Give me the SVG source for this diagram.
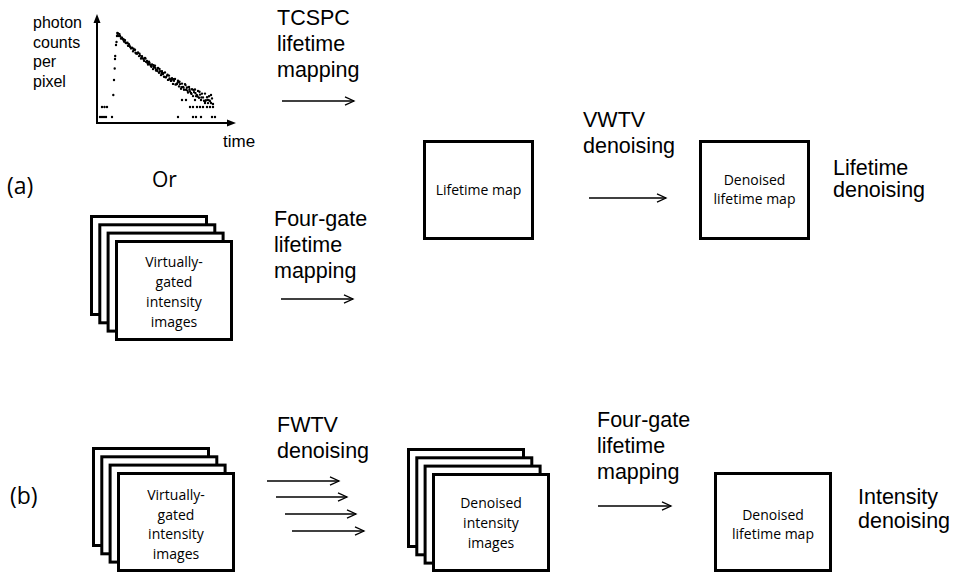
<svg xmlns="http://www.w3.org/2000/svg" width="953" height="573" viewBox="0 0 953 573">
<style>
.box{fill:#fff;stroke:#000;stroke-width:3}
.lbl{font-family:"Liberation Sans",Arial,sans-serif;font-size:21.5px;fill:#000}
.in{font-family:"Open Sans","Noto Sans",sans-serif;font-size:14px;fill:#000;text-anchor:middle}
.ax{font-family:"Liberation Sans",Arial,sans-serif;font-size:16px;fill:#000}
.conn{stroke:#000;stroke-width:1.3;fill:none;marker-end:url(#arr)}
</style>
<defs>
<marker id="arr" markerUnits="userSpaceOnUse" markerWidth="12" markerHeight="12" refX="10" refY="5" orient="auto">
<path d="M1,0.8 L10,5 L1,9.2" fill="none" stroke="#000" stroke-width="1.3"/>
</marker>
</defs>
<rect width="953" height="573" fill="#fff"/>

<g id="plot">
<path d="M97,21 V123 H229" fill="none" stroke="#000" stroke-width="2"/>
<path d="M97,14 L93.5,23 L100.5,23 Z M236,123 L227,119.5 L227,126.5 Z" fill="#000"/>
<text class="ax" x="33" y="28">photon</text>
<text class="ax" x="33" y="47.5">counts</text>
<text class="ax" x="33" y="67">per</text>
<text class="ax" x="33" y="86.5">pixel</text>
<text class="ax" x="223" y="147" style="font-size:17px">time</text>
<path fill="none" stroke="#000" stroke-width="2.4" stroke-linecap="round" d="M118 33.1h.01M119 36h.01M120 36h.01M121 38.5h.01M122 37.6h.01M123 39.5h.01M124 41.5h.01M125 40.1h.01M126 43.1h.01M127 43h.01M128 45.8h.01M129 44.3h.01M130 46.8h.01M131 48.4h.01M132 47.6h.01M133 51.2h.01M134 50.1h.01M135 49.7h.01M136 53.4h.01M137 53.7h.01M138 52.4h.01M139 56.1h.01M140 55.4h.01M141 58.5h.01M142 56.2h.01M143 58.5h.01M144 60.8h.01M145 57.9h.01M146 61.8h.01M147 61h.01M148 64.5h.01M149 61.6h.01M150 64.6h.01M151 66.2h.01M152 64.4h.01M153 69.1h.01M154 67h.01M155 65.8h.01M156 70.5h.01M157 70.3h.01M158 68h.01M159 72.7h.01M160 71.1h.01M161 75.1h.01M162 71.3h.01M163 74.1h.01M164 76.7h.01M165 72.4h.01M166 77.2h.01M167 75.6h.01M168 79.9h.01M169 75.6h.01M170 79.3h.01M171 80.9h.01M172 78.2h.01M173 83.9h.01M174 80.8h.01M175 78.9h.01M176 84.5h.01M177 84.1h.01M178 80.7h.01M179 86.4h.01M180 84.1h.01M181 88.7h.01M182 83.6h.01M183 86.9h.01M184 89.8h.01M185 84.1h.01M186 89.8h.01M187 87.5h.01M188 92.5h.01M189 86.9h.01M190 91.2h.01M191 93h.01M192 89.3h.01M193 96.1h.01M194 92.1h.01M195 89.5h.01M196 96.1h.01M197 95.3h.01M198 90.9h.01M199 97.7h.01M200 94.6h.01M201 100h.01M202 93.6h.01M203 97.4h.01M204 100.7h.01M205 93.6h.01M206 100.2h.01M207 97.3h.01M208 103.1h.01M209 96.2h.01M210 101.1h.01M211 103h.01M212 98.4h.01M213 104h.01
M117.5 33.7h.01M119.5 34.3h.01M121.5 37.7h.01M123.5 39.1h.01M125.5 42.4h.01M127.5 42.7h.01M129.5 45.7h.01M131.5 48.2h.01M133.5 48.7h.01M135.5 52.7h.01M137.5 52.9h.01M139.5 53.6h.01M141.5 57.6h.01M143.5 58.8h.01M145.5 58.5h.01M147.5 62.9h.01M149.5 62.9h.01M151.5 66.7h.01M153.5 65.2h.01M155.5 68.2h.01M157.5 71.1h.01M159.5 68.9h.01M161.5 73.3h.01M163.5 73.1h.01M165.5 77.2h.01M167.5 74.8h.01M169.5 78.4h.01M171.5 80.5h.01M173.5 79.1h.01M175.5 84.5h.01M177.5 82.7h.01M179.5 81.8h.01M181.5 87.1h.01M183.5 87.4h.01M185.5 85.1h.01M187.5 90.6h.01M189.5 89.1h.01M191.5 93.9h.01M193.5 89.9h.01M195.5 93.3h.01M197.5 96.5h.01M199.5 91.8h.01M201.5 97.4h.01M205.5 100.8h.01M209.5 100.4h.01
M113.3 95h.01M114 80h.01M114.7 68.5h.01M115 59h.01M115.2 56h.01M116 45h.01M116.5 42h.01M117 36h.01M117.3 33h.01
M100 117h.01M102 117h.01M104 117h.01M106 117h.01M112 117h.01M102 107h.01M104.5 107h.01M107 107h.01M178 117h.01M193 117h.01M196 117h.01M201 117h.01M212 117h.01M215 117h.01M190 107h.01M193 107h.01M197 107h.01M200 107h.01M203 107h.01M207 107h.01M210 107h.01M213 107h.01M182 100h.01M186 100h.01M195 100h.01M205 103h.01M208 100h.01M211 95h.01"/>
</g>

<g id="label-a"><text x="7" y="194" style="font-family:'Open Sans','Noto Sans',sans-serif;font-size:23px">(a)</text></g>
<g id="label-b"><text x="10" y="504" style="font-family:'Open Sans','Noto Sans',sans-serif;font-size:23px">(b)</text></g>
<g id="label-or"><text x="152" y="187" style="font-family:'Open Sans','Noto Sans',sans-serif;font-size:21px">Or</text></g>

<g id="stack-a">
<rect class="box" x="91.5" y="216.5" width="115" height="98"/>
<rect class="box" x="99.8" y="224.8" width="115" height="98"/>
<rect class="box" x="108.1" y="233.1" width="115" height="98"/>
<rect class="box" x="116.5" y="241.5" width="115" height="98"/>
<text class="in" x="174" y="267">Virtually-</text>
<text class="in" x="174" y="287">gated</text>
<text class="in" x="174" y="307">intensity</text>
<text class="in" x="174" y="327">images</text>
</g>

<g id="lifetime-map">
<rect class="box" x="424.5" y="141.5" width="108" height="97"/>
<text class="in" x="478.5" y="195">Lifetime map</text>
</g>

<g id="denoised-map-a">
<rect class="box" x="700.5" y="141.5" width="108" height="97"/>
<text class="in" x="754.5" y="185">Denoised</text>
<text class="in" x="754.5" y="204">lifetime map</text>
</g>

<g id="stack-b">
<rect class="box" x="93.5" y="448.5" width="115" height="97"/>
<rect class="box" x="101.8" y="456.8" width="115" height="97"/>
<rect class="box" x="110.1" y="465.1" width="115" height="97"/>
<rect class="box" x="118.5" y="473.5" width="115" height="97"/>
<text class="in" x="176" y="500">Virtually-</text>
<text class="in" x="176" y="519.5">gated</text>
<text class="in" x="176" y="539">intensity</text>
<text class="in" x="176" y="558.5">images</text>
</g>

<g id="stack-denoised">
<rect class="box" x="408.5" y="449.5" width="115" height="97"/>
<rect class="box" x="416.8" y="457.8" width="115" height="97"/>
<rect class="box" x="425.1" y="466.1" width="115" height="97"/>
<rect class="box" x="433.5" y="474.5" width="115" height="96"/>
<text class="in" x="491" y="508">Denoised</text>
<text class="in" x="491" y="528">intensity</text>
<text class="in" x="491" y="548">images</text>
</g>

<g id="denoised-map-b">
<rect class="box" x="715.5" y="473.5" width="115" height="97"/>
<text class="in" x="773" y="520">Denoised</text>
<text class="in" x="773" y="539">lifetime map</text>
</g>

<g id="labels">
<text class="lbl" x="277" y="25">TCSPC</text>
<text class="lbl" x="277" y="51">lifetime</text>
<text class="lbl" x="277" y="77">mapping</text>
<text class="lbl" x="274" y="226">Four-gate</text>
<text class="lbl" x="274" y="252">lifetime</text>
<text class="lbl" x="274" y="278">mapping</text>
<text class="lbl" x="583" y="127">VWTV</text>
<text class="lbl" x="583" y="153">denoising</text>
<text class="lbl" x="833" y="175">Lifetime</text>
<text class="lbl" x="833" y="197">denoising</text>
<text class="lbl" x="277" y="432">FWTV</text>
<text class="lbl" x="277" y="458">denoising</text>
<text class="lbl" x="597" y="427">Four-gate</text>
<text class="lbl" x="597" y="453">lifetime</text>
<text class="lbl" x="597" y="479">mapping</text>
<text class="lbl" x="858" y="504">Intensity</text>
<text class="lbl" x="858" y="528">denoising</text>
</g>

<g id="connectors">
<line class="conn" x1="282" y1="101" x2="354" y2="101"/>
<line class="conn" x1="281" y1="299" x2="353" y2="299"/>
<line class="conn" x1="589" y1="198" x2="666" y2="198"/>
<line class="conn" x1="267" y1="481" x2="339" y2="481"/>
<line class="conn" x1="276" y1="497" x2="347" y2="497"/>
<line class="conn" x1="285" y1="514" x2="356" y2="514"/>
<line class="conn" x1="292" y1="531" x2="364" y2="531"/>
<line class="conn" x1="598" y1="506" x2="671" y2="506"/>
</g>
</svg>
